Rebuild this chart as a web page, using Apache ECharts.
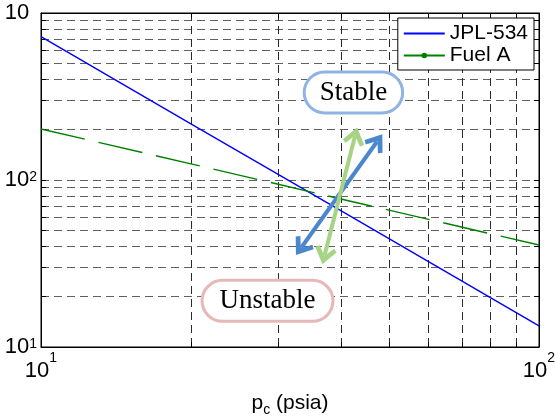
<!DOCTYPE html>
<html><head><meta charset="utf-8">
<script src="https://cdn.jsdelivr.net/npm/echarts@6/dist/echarts.min.js"></script>
<style>html,body{margin:0;padding:0;background:#fff}#c{width:555px;height:416px}</style>
</head><body><div id="c"></div>
<script>
// ---- data ----
const pc = [10, 20, 40, 100];
const jpl534 = [721, 217, 65.5, 13.4];
const fuelA = [202, 125, 77, 40.8];
const xTicks = [10, 20, 30, 40, 50, 60, 70, 80, 90, 100];
const yTicks = [10, 20, 30, 40, 50, 60, 70, 80, 90, 100, 200, 300, 400, 500, 600, 700, 800, 900, 1000];
const xLabelValues = [10, 100];
const yLabelValues = [10, 100, 1000];
const blueArrow = [[33.3, 39.3], [47.3, 170]];
const greenArrow = [[37.1, 35.3], [42.7, 183]];
const stablePos = [42.4, 334];
const unstablePos = [28.5, 18.9];

const FONT = 'Liberation Sans';
const yRich = {
  b: { fontSize: 22, fontFamily: FONT, color: '#000', verticalAlign: 'bottom' },
  s: { fontSize: 14, fontFamily: FONT, color: '#000', verticalAlign: 'bottom', padding: [0, 0, 7, 0] },
  h: { fontSize: 14, fontFamily: FONT, color: 'rgba(0,0,0,0)', verticalAlign: 'bottom', padding: [0, 0, 7, 0] }
};
const xRich = {
  b: { fontSize: 22, fontFamily: FONT, color: '#000', verticalAlign: 'bottom' },
  s: { fontSize: 14, fontFamily: FONT, color: '#000', verticalAlign: 'bottom', padding: [0, 0, 17, 0] }
};
const exp10 = v => Math.round(Math.log10(v));
const xFmt = v => '{b|10}{s|' + exp10(v) + '}';
// top label of the reference is clipped: its exponent is not visible
const yFmt = v => v >= 1000 ? '{b|10}{h|' + exp10(v) + '}' : '{b|10}{s|' + exp10(v) + '}';
const vGrid = { type: [8, 5], color: '#2a2a2a', width: 1 };
const hGrid = { type: [8, 5], color: '#606060', width: 1 };
const chevron = 'path://M5 0 L10 7.5 L8.4 9 L5 4.2 L1.6 9 L0 7.5 Z';

const chart = echarts.init(document.getElementById('c'));
chart.setOption({
  animation: false,
  backgroundColor: '#fff',
  grid: { left: 41, right: 16, top: 13, bottom: 69, outerBoundsMode: 'none', containLabel: false,
    show: true, borderColor: '#000', borderWidth: 1, backgroundColor: 'transparent' },
  xAxis: [{
    type: 'log', logBase: 10, min: 10, max: 100,
    axisLine: { show: true, lineStyle: { color: '#000' } },
    axisTick: { show: true, inside: true, length: 5, customValues: xTicks, lineStyle: { color: '#000' } },
    axisLabel: { customValues: xLabelValues, formatter: xFmt, rich: xRich, margin: 4 },
    splitLine: { show: true, lineStyle: vGrid },
    name: 'p{s|c} (psia)', nameLocation: 'middle', nameGap: 42,
    nameTextStyle: { fontSize: 21, fontFamily: FONT, color: '#000',
      rich: { s: { fontSize: 14, fontFamily: FONT, color: '#000', verticalAlign: 'top', padding: [14, 0, 0, 0] } } }
  }, {
    type: 'log', logBase: 10, min: 10, max: 100, position: 'top',
    axisLine: { show: true, lineStyle: { color: '#000' } },
    axisTick: { show: true, inside: true, length: 5, customValues: xTicks, lineStyle: { color: '#000' } },
    axisLabel: { show: false }, splitLine: { show: false }
  }],
  yAxis: [{
    type: 'log', logBase: 10, min: 10, max: 1000,
    axisLine: { show: true, lineStyle: { color: '#000' } },
    axisTick: { show: true, inside: true, length: 5, customValues: yTicks, lineStyle: { color: '#000' } },
    axisLabel: { customValues: yLabelValues, formatter: yFmt, rich: yRich, margin: 4 },
    splitLine: { show: true, lineStyle: hGrid }
  }, {
    type: 'log', logBase: 10, min: 10, max: 1000, position: 'right',
    axisLine: { show: true, lineStyle: { color: '#000' } },
    axisTick: { show: true, inside: true, length: 5, customValues: yTicks, lineStyle: { color: '#000' } },
    axisLabel: { show: false }, splitLine: { show: false }
  }],
  legend: {
    orient: 'vertical', top: 18, right: 21,
    backgroundColor: '#fff', borderColor: '#000', borderWidth: 1, borderRadius: 0,
    padding: [5, 6, 4, 5], itemWidth: 41, itemHeight: 7, itemGap: 1,
    textStyle: { fontSize: 21, fontFamily: FONT, color: '#000', lineHeight: 21 },
    data: [
      { name: 'JPL-534', itemStyle: { color: 'rgba(0,0,0,0)', borderWidth: 0 } },
      { name: 'Fuel A', lineStyle: { type: 'solid' } }
    ]
  },
  series: [{
    name: 'JPL-534', type: 'line', xAxisIndex: 0, yAxisIndex: 0,
    data: pc.map((x, i) => [x, jpl534[i]]),
    symbol: 'none', lineStyle: { color: '#0000ff', width: 1.4 }, itemStyle: { color: '#0000ff' }, z: 3
  }, {
    name: 'Fuel A', type: 'line', xAxisIndex: 0, yAxisIndex: 0,
    data: pc.map((x, i) => [x, fuelA[i]]),
    symbol: 'circle', symbolSize: 5, showSymbol: false,
    lineStyle: { color: '#008000', width: 1.4, type: [45, 14] }, itemStyle: { color: '#008000' }, z: 3,
    markLine: {
      silent: true, animation: false, z: 5,
      symbol: [chevron, chevron], symbolSize: [22, 18],
      label: { show: false },
      emphasis: { disabled: true },
      data: [
        [{ coord: blueArrow[0], lineStyle: { color: '#4a87cc', width: 4, type: 'solid' }, itemStyle: { color: '#4a87cc' } },
         { coord: blueArrow[1] }],
        [{ coord: greenArrow[0], lineStyle: { color: '#a6d384', width: 4, type: 'solid' }, itemStyle: { color: '#a6d384' } },
         { coord: greenArrow[1] }]
      ]
    },
    markPoint: {
      silent: true, symbol: 'circle', symbolSize: 0, z: 6,
      label: { show: true, position: 'inside', fontFamily: 'Liberation Serif', fontSize: 27, color: '#000',
        backgroundColor: '#fff', borderWidth: 3, borderRadius: 20 },
      data: [
        { coord: stablePos, value: 'Stable', label: { formatter: 'Stable', borderColor: '#8fb4e3', padding: [6, 14, 5, 14] } },
        { coord: unstablePos, value: 'Unstable', label: { formatter: 'Unstable', borderColor: '#e6b8b7', padding: [6, 16, 5, 16] } }
      ]
    }
  }]
});
</script></body></html>
